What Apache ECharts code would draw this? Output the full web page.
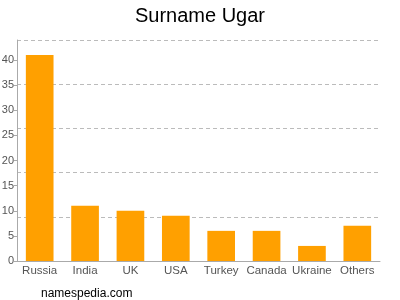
<!DOCTYPE html>
<html><head><meta charset="utf-8">
<script src="https://cdn.jsdelivr.net/npm/echarts@6/dist/echarts.min.js"></script>
<style>html,body{margin:0;padding:0;background:#fff}#c{width:400px;height:300px}</style>
</head><body><div id="c"></div>
<script>
const categories = ["Russia","India","UK","USA","Turkey","Canada","Ukraine","Others"];
const counts = [41,11,10,9,6,6,3,7];
const chart = echarts.init(document.getElementById('c'), null, {renderer:'canvas'});
chart.setOption({
  animation:false,
  title:[{text:'Surname Ugar',left:'center',top:1,textStyle:{fontFamily:'Liberation Sans, Arial',fontSize:20,fontWeight:'normal',color:'#000'}},
         {text:'namespedia.com',left:36,top:283,textStyle:{fontFamily:'Liberation Sans, Arial',fontSize:12,fontWeight:'normal',color:'#000'}}],
  grid:{left:17,right:20,top:40,bottom:39,containLabel:false,outerBoundsMode:'none'},
  xAxis:{type:'category',data:categories,
    axisLine:{lineStyle:{color:'#aaa'}},
    axisTick:{alignWithLabel:true,length:4,lineStyle:{color:'#aaa'}},
    axisLabel:{interval:0,color:'#555',fontFamily:'Liberation Sans, Arial',fontSize:11.5,margin:4}},
  yAxis:[{type:'value',min:0,max:44,interval:5,
    axisLine:{show:true,lineStyle:{color:'#aaa'}},
    axisTick:{show:true,length:3,lineStyle:{color:'#aaa'}},
    axisLabel:{color:'#555',fontFamily:'Liberation Sans, Arial',fontSize:11,margin:3,showMaxLabel:false},
    splitLine:{show:false}},
   {type:'value',min:0,max:44,interval:8.8,position:'left',
    axisLine:{show:false},axisTick:{show:false},axisLabel:{show:false},
    splitLine:{show:true,lineStyle:{color:'#bbb',type:[4,3]}}}],
  series:[{type:'bar',data:counts,barWidth:'61%',itemStyle:{color:'#FFA000'},yAxisIndex:0}]
});
</script></body></html>
